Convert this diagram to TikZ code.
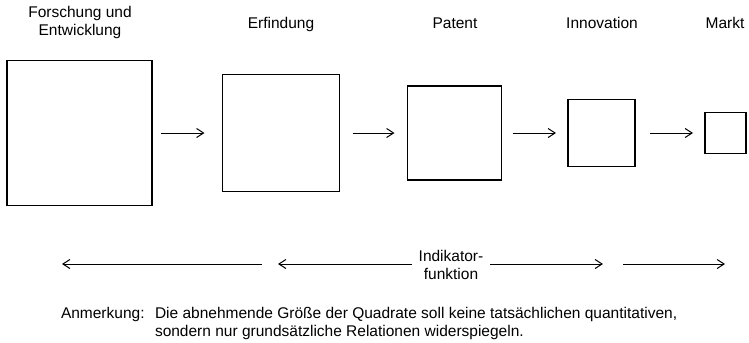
\documentclass[tikz,border=0pt]{standalone}
\usepackage{fontspec}
\setmainfont{Liberation Sans}
\usetikzlibrary{arrows.meta}
\tikzset{
  sq/.style={draw, line width=1.1bp, minimum size=#1, inner sep=0pt, outer sep=0pt},
  lbl/.style={font=\fontsize{15.5bp}{18bp}\selectfont, inner sep=0pt, outer sep=0pt},
  arr/.style={line width=1bp, -{Straight Barb[length=7bp, width=9bp, line width=1bp]}},
}
\begin{document}
\begin{tikzpicture}[x=1bp, y=-1bp]
\useasboundingbox (0,0) rectangle (749,342);
% boxes
\node[sq=145bp] (b1) at (79.5,133) {};
\node[sq=117bp] (b2) at (281,133) {};
\node[sq=94bp]  (b3) at (454.5,133) {};
\node[sq=67bp]  (b4) at (601.5,133) {};
\node[sq=41bp]  (b5) at (725.5,133) {};
% labels (multi-line nodes: base = last line)
\node[lbl, align=center, anchor=base] (t1) at (80,35.5) {Forschung und\\Entwicklung};
\node[lbl, anchor=base] (t2) at (281,28) {Erfindung};
\node[lbl, anchor=base] (t3) at (455,28) {Patent};
\node[lbl, anchor=base] (t4) at (602,28) {Innovation};
\node[lbl, anchor=base] (t5) at (725,28) {Markt};
% top arrows
\draw[arr, shorten <=9bp, shorten >=18bp] (b1.east) -- (b2.west);
\draw[arr, shorten <=13bp, shorten >=13bp] (b2.east) -- (b3.west);
\draw[arr, shorten <=11bp, shorten >=12bp] (b3.east) -- (b4.west);
\draw[arr, shorten <=15bp, shorten >=12bp] (b4.east) -- (b5.west);
% bottom arrows
\coordinate (p1a) at (262,264);
\coordinate (p1b) at (62,264);
\coordinate (p2a) at (412,264);
\coordinate (p2b) at (278,264);
\coordinate (p3a) at (490,264);
\coordinate (p3b) at (603,264);
\coordinate (p4a) at (623,264);
\coordinate (p4b) at (725,264);
\draw[arr] (p1a) -- (p1b);
\draw[arr] (p2a) -- (p2b);
\draw[arr] (p3a) -- (p3b);
\draw[arr] (p4a) -- (p4b);
\node[lbl, align=center] (ind) at (451,265) {Indikator-\\funktion};
% note
\node[lbl, anchor=base west] (anm) at (61,318) {Anmerkung:};
\node[lbl, align=left, anchor=base west] (note) at (155,336) {Die abnehmende Größe der Quadrate soll keine tatsächlichen quantitativen,\\sondern nur grundsätzliche Relationen widerspiegeln.};
\end{tikzpicture}
\end{document}
